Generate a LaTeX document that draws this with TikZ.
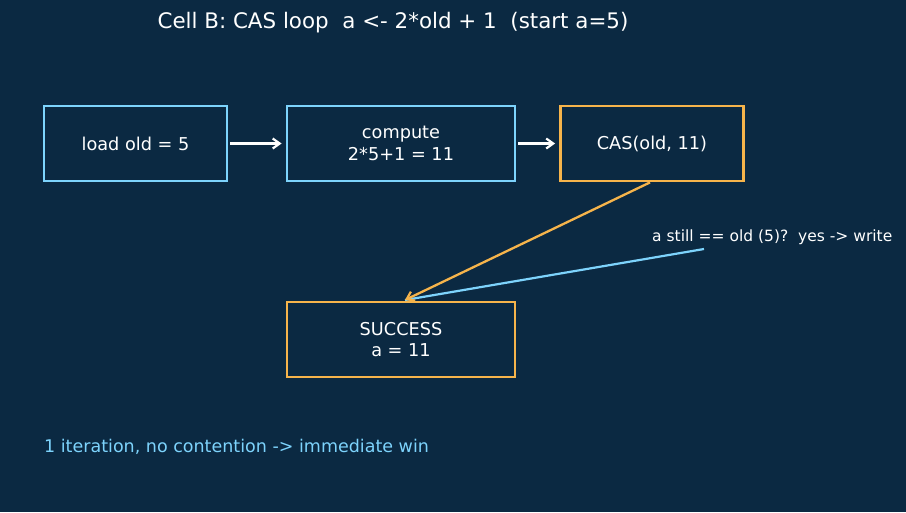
\documentclass[tikz,border=0pt]{standalone}
\usepackage{fontspec}
\setmainfont{DejaVu Sans}
\usetikzlibrary{arrows.meta}
\definecolor{bg}{HTML}{0B2942}
\definecolor{skyb}{HTML}{7DD3FC}
\definecolor{amb}{HTML}{F6B44B}
\begin{document}
\begin{tikzpicture}[x=1pt,y=-1pt,
  box/.style={draw=#1,line width=2.8pt,minimum width=183pt,minimum height=75pt,inner sep=0pt,text=white,align=center,font=\fontsize{17.7}{21.5}\selectfont},
  wide/.style={minimum width=228pt},
  arr/.style={-{Straight Barb[length=7pt,width=10pt,line width=2.2pt]},line width=2.3pt}]
\fill[bg] (0,0) rectangle (906,512);
\useasboundingbox (0,0) rectangle (906,512);
\node[text=white,font=\fontsize{21.4}{25}\selectfont] (title) at (393,23) {Cell B: CAS loop\ \ a <- 2*old + 1\ \ (start a=5)};
\node[box=skyb] (load) at (135.5,143.5) {load old = 5};
\node[box=skyb,wide] (comp) at (401,143.5) {compute\\2*5+1 = 11};
\node[box=amb] (cas) at (652,143.5) {CAS(old, 11)};
\node[box=amb,wide] (succ) at (401,339.5) {SUCCESS\\a = 11};
\node[text=white,font=\fontsize{15.5}{18}\selectfont,anchor=west,inner sep=0pt] (lab) at (652,237) {a still == old (5)?\ \ yes -> write};
\coordinate (labp) at (704,249);
\coordinate (tip) at (405,300);
\node[text=skyb,font=\fontsize{17.5}{20}\selectfont,anchor=west,inner sep=0pt] (note) at (44,447) {1 iteration, no contention -> immediate win};
\draw[arr,white] ([xshift=2pt]load.east) -- ([xshift=-4pt]comp.west);
\draw[arr,white] ([xshift=2pt]comp.east) -- ([xshift=-4pt]cas.west);
\draw[skyb,line width=2.2pt] (labp) -- (tip);
\draw[arr,amb] ([xshift=-2pt]cas.south) -- (tip);
\end{tikzpicture}
\end{document}
